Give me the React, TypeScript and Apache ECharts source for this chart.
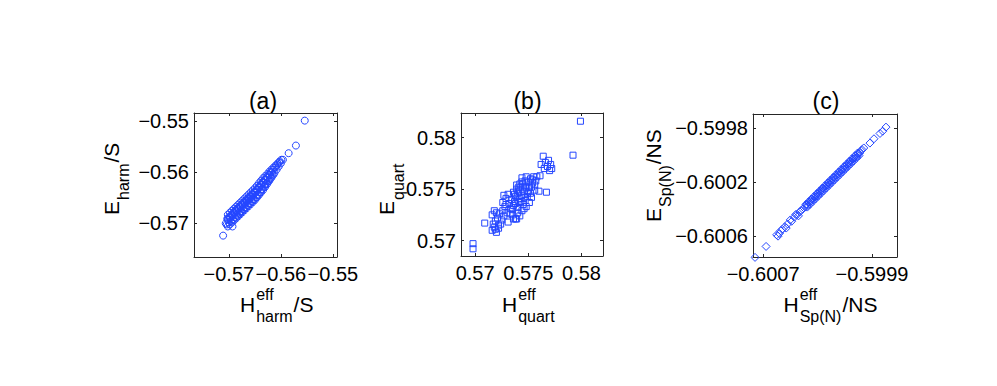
import React, { useEffect, useRef } from 'react';
import * as echarts from 'echarts';

const FONT = '"Liberation Sans", Arial, Helvetica, sans-serif';
const BLUE = '#2446ff';
const AXIS = '#262626';

const panelTitles = ['(a)', '(b)', '(c)'];

// (a) E_harm/S versus H^eff_harm/S
const harmPoints = [
  [-0.5711, -0.5725], [-0.5706, -0.5701], [-0.5693, -0.5707],
  [-0.5704, -0.5703], [-0.5703, -0.5692],
  [-0.5700, -0.5699], [-0.5699, -0.5688], [-0.5701, -0.5694],
  [-0.5696, -0.5697], [-0.5695, -0.5684], [-0.5697, -0.5690],
  [-0.5692, -0.5693], [-0.5691, -0.5679], [-0.5693, -0.5686],
  [-0.5688, -0.5689], [-0.5687, -0.5675], [-0.5689, -0.5682], [-0.5686, -0.5684],
  [-0.5684, -0.5686], [-0.5683, -0.5671], [-0.5685, -0.5678],
  [-0.5680, -0.5682], [-0.5679, -0.5667], [-0.5681, -0.5674], [-0.5678, -0.5677],
  [-0.5676, -0.5678], [-0.5675, -0.5663], [-0.5677, -0.5670],
  [-0.5672, -0.5674], [-0.5671, -0.5659], [-0.5673, -0.5666], [-0.5670, -0.5669],
  [-0.5668, -0.5670], [-0.5667, -0.5655], [-0.5669, -0.5662],
  [-0.5664, -0.5666], [-0.5663, -0.5651], [-0.5665, -0.5658], [-0.5662, -0.5661],
  [-0.5660, -0.5662], [-0.5659, -0.5647], [-0.5661, -0.5654],
  [-0.5656, -0.5658], [-0.5655, -0.5643], [-0.5657, -0.5650], [-0.5654, -0.5653],
  [-0.5652, -0.5654], [-0.5651, -0.5639], [-0.5653, -0.5646],
  [-0.5648, -0.5650], [-0.5647, -0.5635], [-0.5649, -0.5641], [-0.5646, -0.5645],
  [-0.5644, -0.5645], [-0.5643, -0.5630], [-0.5645, -0.5636],
  [-0.5640, -0.5640], [-0.5639, -0.5625], [-0.5641, -0.5631], [-0.5638, -0.5634],
  [-0.5636, -0.5634], [-0.5635, -0.5620], [-0.5637, -0.5626],
  [-0.5632, -0.5629], [-0.5631, -0.5615], [-0.5633, -0.5621], [-0.5630, -0.5624],
  [-0.5628, -0.5623], [-0.5627, -0.5610], [-0.5629, -0.5616],
  [-0.5624, -0.5618], [-0.5623, -0.5605], [-0.5625, -0.5611],
  [-0.5620, -0.5612], [-0.5619, -0.5600], [-0.5621, -0.5606],
  [-0.5616, -0.5606], [-0.5615, -0.5596], [-0.5617, -0.5601],
  [-0.5612, -0.5601], [-0.5611, -0.5591],
  [-0.5608, -0.5595], [-0.5607, -0.5586],
  [-0.5604, -0.5589], [-0.5603, -0.5581],
  [-0.5600, -0.5583], [-0.5599, -0.5576],
  [-0.5596, -0.5576], [-0.5585, -0.5563], [-0.5571, -0.5548], [-0.5554, -0.5499],
  [-0.5702, -0.5684], [-0.5702, -0.5707], [-0.5702, -0.5692],
  [-0.5698, -0.5680], [-0.5698, -0.5703], [-0.5698, -0.5688],
  [-0.5694, -0.5676], [-0.5694, -0.5699], [-0.5694, -0.5684],
  [-0.5690, -0.5672], [-0.5690, -0.5695], [-0.5690, -0.5680],
  [-0.5686, -0.5668], [-0.5686, -0.5691], [-0.5686, -0.5676],
  [-0.5682, -0.5664], [-0.5682, -0.5687], [-0.5682, -0.5672],
  [-0.5678, -0.5660], [-0.5678, -0.5683], [-0.5678, -0.5668],
  [-0.5674, -0.5656], [-0.5674, -0.5679], [-0.5674, -0.5664],
  [-0.5670, -0.5652], [-0.5670, -0.5675], [-0.5670, -0.5660],
  [-0.5666, -0.5648], [-0.5666, -0.5671], [-0.5666, -0.5656],
  [-0.5662, -0.5644], [-0.5662, -0.5667], [-0.5662, -0.5652],
  [-0.5658, -0.5640], [-0.5658, -0.5663], [-0.5658, -0.5648],
  [-0.5654, -0.5636], [-0.5654, -0.5659], [-0.5654, -0.5644],
  [-0.5650, -0.5632], [-0.5650, -0.5655], [-0.5650, -0.5640],
  [-0.5646, -0.5627], [-0.5646, -0.5650], [-0.5646, -0.5635],
  [-0.5642, -0.5622], [-0.5642, -0.5645], [-0.5642, -0.5630],
  [-0.5638, -0.5617], [-0.5638, -0.5640], [-0.5638, -0.5625],
  [-0.5634, -0.5612], [-0.5634, -0.5635], [-0.5634, -0.5620],
  [-0.5630, -0.5608], [-0.5630, -0.5629], [-0.5630, -0.5615],
  [-0.5626, -0.5604], [-0.5626, -0.5623],
  [-0.5622, -0.5599], [-0.5622, -0.5617],
  [-0.5618, -0.5595], [-0.5618, -0.5611],
  [-0.5614, -0.5591], [-0.5614, -0.5605],
  [-0.5610, -0.5587], [-0.5606, -0.5583], [-0.5602, -0.5579],
];

// (b) E_quart versus H^eff_quart
const quartPoints = [
  [0.5799, 0.5816], [0.5792, 0.5783], [0.5698, 0.5697], [0.5698, 0.5692],
  [0.5709, 0.5717], [0.5767, 0.5747], [0.5760, 0.5748],
  [0.5764, 0.5782], [0.5766, 0.5776], [0.5769, 0.5778], [0.5771, 0.5774],
  [0.5768, 0.5772], [0.5772, 0.5770], [0.5765, 0.5770], [0.5762, 0.5774], [0.5770, 0.5768],
  [0.5716, 0.5710], [0.5718, 0.5713], [0.5720, 0.5708], [0.5717, 0.5716],
  [0.5719, 0.5719], [0.5721, 0.5722], [0.5716, 0.5725], [0.5720, 0.5727],
  [0.5718, 0.5729], [0.5722, 0.5715], [0.5719, 0.5711],
  [0.5725, 0.5720], [0.5727, 0.5724], [0.5726, 0.5729], [0.5728, 0.5733],
  [0.5726, 0.5737], [0.5729, 0.5741], [0.5727, 0.5744], [0.5730, 0.5727],
  [0.5731, 0.5718], [0.5733, 0.5731], [0.5732, 0.5736], [0.5734, 0.5740],
  [0.5731, 0.5745], [0.5735, 0.5725], [0.5736, 0.5721], [0.5738, 0.5721],
  [0.5736, 0.5734], [0.5737, 0.5738], [0.5738, 0.5743], [0.5736, 0.5747],
  [0.5739, 0.5750], [0.5740, 0.5732], [0.5741, 0.5737], [0.5742, 0.5741],
  [0.5740, 0.5746], [0.5743, 0.5752], [0.5744, 0.5729], [0.5745, 0.5735],
  [0.5744, 0.5744], [0.5746, 0.5748], [0.5745, 0.5755], [0.5747, 0.5739],
  [0.5748, 0.5733], [0.5749, 0.5743], [0.5748, 0.5751], [0.5750, 0.5757],
  [0.5751, 0.5737], [0.5752, 0.5746], [0.5750, 0.5748], [0.5753, 0.5752],
  [0.5747, 0.5758], [0.5742, 0.5755], [0.5739, 0.5754],
  [0.5744, 0.5761], [0.5748, 0.5762], [0.5752, 0.5760], [0.5755, 0.5762],
  [0.5757, 0.5758], [0.5754, 0.5756], [0.5758, 0.5762], [0.5761, 0.5763],
  [0.5756, 0.5754], [0.5753, 0.5742], [0.5756, 0.5749], [0.5739, 0.5721],
  [0.5735, 0.5730], [0.5737, 0.5745], [0.5741, 0.5748], [0.5743, 0.5738],
  [0.5746, 0.5742], [0.5749, 0.5746], [0.5747, 0.5753], [0.5744, 0.5757],
  [0.5741, 0.5752], [0.5738, 0.5736], [0.5733, 0.5726], [0.5729, 0.5735],
  [0.5724, 0.5716], [0.5722, 0.5712], [0.5723, 0.5726], [0.5740, 0.5727],
  [0.5751, 0.5752], [0.5754, 0.5759], [0.5746, 0.5731], [0.5742, 0.5724],
];

// (c) E_Sp(N)/NS versus H^eff_Sp(N)/NS
const spnPoints = [
  [-0.600759, -0.600757], [-0.600678, -0.600676],
  [-0.60060, -0.60059], [-0.60059, -0.60060], [-0.60057, -0.60056],
  [-0.60058, -0.60058], [-0.60056, -0.60055], [-0.60054, -0.60053], [-0.60053, -0.60054],
  [-0.60052, -0.60051], [-0.60050, -0.60048], [-0.60049, -0.60049], [-0.60047, -0.60046],
  [-0.60046, -0.60044], [-0.60044, -0.60045], [-0.60043, -0.60042],
  [-0.60045, -0.60044], [-0.60042, -0.60041], [-0.60041, -0.60040],
  [-0.60039, -0.600385], [-0.60038, -0.600365], [-0.60037, -0.600373], [-0.60036, -0.60035],
  [-0.60035, -0.600345], [-0.60034, -0.600325], [-0.60033, -0.600333], [-0.60032, -0.60031],
  [-0.60031, -0.600305], [-0.60030, -0.600285], [-0.60029, -0.600293], [-0.60028, -0.60027],
  [-0.60027, -0.600265], [-0.60026, -0.600245], [-0.60025, -0.600253], [-0.60024, -0.60023],
  [-0.60023, -0.600225], [-0.60022, -0.600205], [-0.60021, -0.600213], [-0.60020, -0.60019],
  [-0.60019, -0.600185], [-0.60018, -0.600165], [-0.60017, -0.600173], [-0.60016, -0.60015],
  [-0.60015, -0.600145], [-0.60014, -0.600125], [-0.60013, -0.600133], [-0.60012, -0.60011],
  [-0.60011, -0.600105], [-0.60010, -0.600085], [-0.60009, -0.600093], [-0.60008, -0.60007],
  [-0.60007, -0.600065], [-0.60006, -0.600045], [-0.60005, -0.600053], [-0.60004, -0.60003],
  [-0.60003, -0.600025], [-0.60002, -0.600005], [-0.60001, -0.600013], [-0.60000, -0.59999],
  [-0.59999, -0.599985], [-0.59998, -0.599968],
  [-0.600385, -0.600365], [-0.600375, -0.600385], [-0.600365, -0.600345], [-0.600355, -0.600365],
  [-0.600345, -0.600325], [-0.600335, -0.600345], [-0.600325, -0.600305], [-0.600315, -0.600325],
  [-0.600305, -0.600285], [-0.600295, -0.600305], [-0.600285, -0.600265], [-0.600275, -0.600285],
  [-0.600265, -0.600245], [-0.600255, -0.600265], [-0.600245, -0.600225], [-0.600235, -0.600245],
  [-0.600225, -0.600205], [-0.600215, -0.600225], [-0.600205, -0.600185], [-0.600195, -0.600205],
  [-0.600185, -0.600165], [-0.600175, -0.600185], [-0.600165, -0.600145], [-0.600155, -0.600165],
  [-0.600145, -0.600125], [-0.600135, -0.600145], [-0.600125, -0.600105], [-0.600115, -0.600125],
  [-0.600105, -0.600085], [-0.600095, -0.600105], [-0.600085, -0.600065], [-0.600075, -0.600085],
  [-0.600065, -0.600045], [-0.600055, -0.600065], [-0.600045, -0.600025], [-0.600035, -0.600045],
  [-0.600025, -0.600005], [-0.600015, -0.600025], [-0.600005, -0.599985], [-0.599995, -0.600005],
  [-0.599973, -0.59996], [-0.59996, -0.599948], [-0.599915, -0.599912],
  [-0.599885, -0.59988], [-0.599841, -0.599841], [-0.599821, -0.599824], [-0.599797, -0.599794],
];

const harmXTicks = [-0.57, -0.56, -0.55];
const harmYTicks = [-0.57, -0.56, -0.55];
const quartXTicks = [0.57, 0.575, 0.58];
const quartYTicks = [0.57, 0.575, 0.58];
const spnXTicks = [-0.6007, -0.5999];
const spnYTicks = [-0.6006, -0.6002, -0.5998];

const fmt = (v: number) => (v < 0 ? '\u2212' + String(Math.abs(v)) : String(v));

const panels = [
  { grid: { left: 194, top: 113, width: 143, height: 144 }, xr: [-0.5767, -0.5492], yr: [-0.5767, -0.5484], xt: harmXTicks, yt: harmYTicks, data: harmPoints, symbol: 'circle', size: 7 },
  { grid: { left: 461, top: 113, width: 142, height: 143 }, xr: [0.56867, 0.58202], yr: [0.5685, 0.5824], xt: quartXTicks, yt: quartYTicks, data: quartPoints, symbol: 'rect', size: 6 },
  { grid: { left: 753, top: 114, width: 144, height: 143 }, xr: [-0.600774, -0.599716], yr: [-0.600754, -0.599697], xt: spnXTicks, yt: spnYTicks, data: spnPoints, symbol: 'diamond', size: 8 },
];

let measureCtx: CanvasRenderingContext2D | null = null;
function measure(t: string, size: number) {
  if (!measureCtx) measureCtx = document.createElement('canvas').getContext('2d');
  if (!measureCtx) return t.length * size * 0.55;
  measureCtx.font = `${size}px ${FONT}`;
  return measureCtx.measureText(t).width;
}

function txt(text: string, x: number, y: number, size: number, align = 'left') {
  return {
    type: 'text', x, y, silent: true,
    style: { text, fontSize: size, fontFamily: FONT, fill: '#000', align, verticalAlign: 'middle', textAlign: align, textVerticalAlign: 'middle' },
  };
}

function mathLabel(x: number, y: number, base: string, sup: string, sub: string, tail: string, rotate: boolean) {
  const MAIN = 21, SMALL = 16;
  const bw = measure(base, MAIN);
  const sw = Math.max(sup ? measure(sup, SMALL) : 0, sub ? measure(sub, SMALL) : 0);
  const children: any[] = [txt(base, 0, 0, MAIN)];
  if (sup) children.push(txt(sup, bw + 1, -10, SMALL));
  if (sub) children.push(txt(sub, bw + 1, 12, SMALL));
  if (tail) children.push(txt(tail, bw + 1 + sw + 1, 0, MAIN));
  return { type: 'group', x, y, rotation: rotate ? Math.PI / 2 : 0, silent: true, children };
}

function axis(kind: 'x' | 'y', gi: number, range: number[], ticks: number[], mirror: boolean) {
  const position = kind === 'x' ? (mirror ? 'top' : 'bottom') : (mirror ? 'right' : 'left');
  return {
    type: 'value', gridIndex: gi, position, min: range[0], max: range[1],
    axisLine: { show: true, onZero: false, lineStyle: { color: AXIS, width: 1 } },
    axisTick: { show: true, inside: true, length: 3, customValues: ticks, lineStyle: { color: AXIS, width: 1 } },
    axisLabel: {
      show: !mirror, customValues: ticks, margin: kind === 'x' ? 7 : 5, hideOverlap: false,
      fontSize: 20, fontFamily: FONT, color: '#000', formatter: fmt,
    },
    splitLine: { show: false },
  };
}

export default function App() {
  const ref = useRef<HTMLDivElement>(null);
  useEffect(() => {
    if (!ref.current) return;
    const chart = echarts.init(ref.current, undefined, { renderer: 'svg' });
    const xAxis: any[] = [];
    const yAxis: any[] = [];
    const series: any[] = [];
    panels.forEach((p, i) => {
      xAxis.push(axis('x', i, p.xr, p.xt, false), axis('x', i, p.xr, p.xt, true));
      yAxis.push(axis('y', i, p.yr, p.yt, false), axis('y', i, p.yr, p.yt, true));
      series.push({
        type: 'scatter', xAxisIndex: i * 2, yAxisIndex: i * 2, data: p.data,
        symbol: p.symbol, symbolSize: p.size, clip: false,
        itemStyle: { color: 'rgba(255,255,255,0)', borderColor: BLUE, borderWidth: 1, opacity: 1 },
        emphasis: { disabled: true }, silent: true,
      });
    });
    const titleX = [263, 527.5, 826];
    const graphic: any[] = [
      ...panelTitles.map((t, i) => txt(t, titleX[i], 101, 23, 'center')),
      mathLabel(240, 304.5, 'H', 'eff', 'harm', '/S', false),
      mathLabel(502, 304.5, 'H', 'eff', 'quart', '', false),
      mathLabel(783.5, 304.5, 'H', 'eff', 'Sp(N)', '/NS', false),
      mathLabel(111, 215, 'E', '', 'harm', '/S', true),
      mathLabel(386, 215, 'E', '', 'quart', '', true),
      mathLabel(653, 222, 'E', '', 'Sp(N)', '/NS', true),
    ];
    chart.setOption({
      animation: false,
      backgroundColor: '#ffffff',
      grid: panels.map((p) => ({ ...p.grid, containLabel: false })),
      xAxis, yAxis, series, graphic,
    });
    return () => chart.dispose();
  }, []);
  return <div ref={ref} style={{ position: 'absolute', left: 0, top: 0, width: 997, height: 386 }} />;
}
